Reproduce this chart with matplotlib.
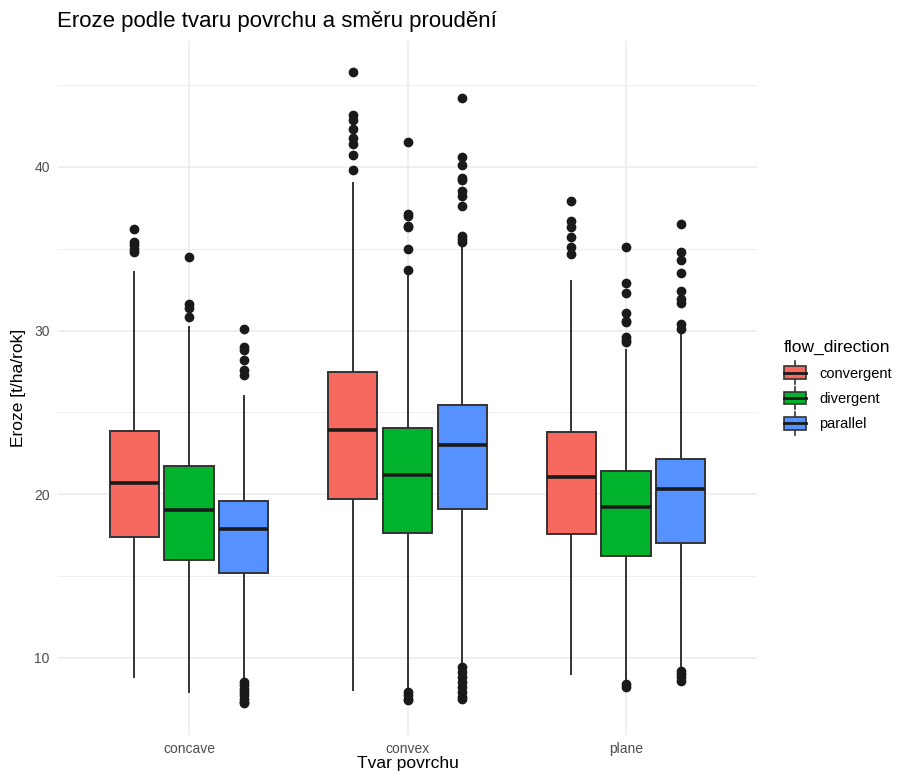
import matplotlib
matplotlib.use('Agg')
import matplotlib.pyplot as plt
from matplotlib.patches import Rectangle
from matplotlib.lines import Line2D
from matplotlib.legend_handler import HandlerBase

plt.rcParams['font.family'] = ['Liberation Sans', 'DejaVu Sans']

# categories and groups
shapes = ['concave', 'convex', 'plane']
directions = ['convergent', 'divergent', 'parallel']
colors = ['#F7695F', '#00B22C', '#5592FF']

# box statistics: (whislo, q1, med, q3, whishi)
# order: concave, convex, plane
convergent_stats = [(8.8, 17.35, 20.67, 23.88, 33.6),
                    (8.05, 19.69, 23.93, 27.49, 39.0),
                    (9.0, 17.56, 21.04, 23.82, 33.03)]
divergent_stats = [(7.9, 15.99, 19.04, 21.69, 30.24),
                   (8.2, 17.62, 21.14, 24.01, 33.5),
                   (8.5, 16.19, 19.22, 21.42, 28.8)]
parallel_stats = [(8.7, 15.15, 17.86, 19.57, 26.02),
                  (9.45, 19.1, 23.03, 25.47, 35.1),
                  (9.4, 16.98, 20.28, 22.16, 29.87)]

# outliers
convergent_out = [[36.2, 35.4, 35.2, 35.0, 34.8],
                  [45.8, 43.2, 42.9, 42.3, 41.8, 41.4, 40.7, 39.8],
                  [37.9, 36.7, 36.3, 35.7, 35.1, 34.7]]
divergent_out = [[34.5, 31.6, 31.4, 30.8],
                 [41.5, 37.1, 37.0, 36.4, 36.3, 35.0, 33.7, 7.9, 7.7, 7.5, 7.4],
                 [35.1, 32.9, 32.3, 31.1, 30.6, 30.5, 29.6, 29.4, 29.3, 8.4, 8.2]]
parallel_out = [[30.1, 29.0, 28.8, 28.2, 27.6, 27.3,
                 8.5, 8.3, 8.1, 7.9, 7.7, 7.5, 7.3, 7.2],
                [44.2, 40.6, 40.1, 39.3, 39.2, 38.5, 38.2, 37.6, 35.8, 35.6, 35.4,
                 9.4, 9.1, 8.8, 8.5, 8.2, 7.9, 7.6, 7.5],
                [36.5, 34.8, 34.3, 33.5, 32.4, 31.9, 31.7, 30.4, 30.1,
                 9.2, 9.0, 8.8, 8.6]]

all_stats = [convergent_stats, divergent_stats, parallel_stats]
all_out = [convergent_out, divergent_out, parallel_out]

EDGE = '#333333'


class BoxHandler(HandlerBase):
    def create_artists(self, legend, orig_handle, xdescent, ydescent,
                       width, height, fontsize, trans):
        x0, y0 = -xdescent, -ydescent
        h = height
        yb = y0
        rect = Rectangle((x0, yb), width, h, facecolor=orig_handle.get_facecolor(),
                         edgecolor=EDGE, linewidth=1.2, transform=trans)
        med = Line2D([x0, x0 + width], [yb + h / 2] * 2, color='#1a1a1a',
                     linewidth=2.0, transform=trans)
        w1 = Line2D([x0 + width / 2] * 2, [yb + h, yb + h + 3.5], color=EDGE,
                    linewidth=1.2, transform=trans)
        w2 = Line2D([x0 + width / 2] * 2, [yb - 3.5, yb], color=EDGE,
                    linewidth=1.2, transform=trans)
        return [w1, w2, rect, med]


fig = plt.figure(figsize=(8.99, 7.75), dpi=100)
ax = fig.add_axes([58 / 899, 1 - 735 / 775, (757 - 58) / 899, (735 - 41) / 775])

offsets = [-0.25, 0.0, 0.25]
handles = []
for g, (stats, outs) in enumerate(zip(all_stats, all_out)):
    bxp_stats = []
    for (lo, q1, med, q3, hi), fl in zip(stats, outs):
        bxp_stats.append(dict(whislo=lo, q1=q1, med=med, q3=q3, whishi=hi, fliers=fl))
    pos = [i + offsets[g] for i in range(len(shapes))]
    ax.bxp(bxp_stats, positions=pos, widths=0.225, patch_artist=True,
           showcaps=False, manage_ticks=False,
           boxprops=dict(facecolor=colors[g], edgecolor=EDGE, linewidth=1.4),
           medianprops=dict(color='#1a1a1a', linewidth=2.6),
           whiskerprops=dict(color=EDGE, linewidth=1.4),
           flierprops=dict(marker='o', markerfacecolor='#1a1a1a',
                           markeredgecolor='#1a1a1a', markersize=6),
           zorder=3)
    handles.append(Rectangle((0, 0), 1, 1, facecolor=colors[g], edgecolor=EDGE))

ax.set_xlim(-0.6, 2.6)
ax.set_ylim(5.27, 47.7)
ax.set_xticks(range(len(shapes)))
ax.set_xticklabels(shapes)
ax.set_yticks([10, 20, 30, 40])
ax.set_yticks([15, 25, 35, 45], minor=True)
ax.grid(True, which='major', color='#EBEBEB', linewidth=1.1)
ax.grid(True, which='minor', axis='y', color='#EBEBEB', linewidth=0.6)
ax.set_axisbelow(True)
for s in ax.spines.values():
    s.set_visible(False)
ax.tick_params(which='both', length=0, labelsize=10, labelcolor='#4D4D4D')
ax.tick_params(axis='x', pad=5)
ax.tick_params(axis='y', pad=6)

ax.set_xlabel('Tvar povrchu', fontsize=12.5, labelpad=0)
ax.set_ylabel('Eroze [t/ha/rok]', fontsize=12.5, labelpad=6)
fig.text(57 / 899, 1 - 21 / 775, 'Eroze podle tvaru povrchu a směru proudění',
         fontsize=16, va='center', ha='left')

leg = fig.legend(handles, directions, handler_map={Rectangle: BoxHandler()},
                 title='flow_direction', loc='upper left',
                 bbox_to_anchor=(771 / 899, 1 - 327 / 775), frameon=False,
                 fontsize=10.5, title_fontsize=12.5, handlelength=1.5,
                 handleheight=0.95, labelspacing=0.76, handletextpad=0.9,
                 alignment='left')

fig.savefig('out.png', dpi=100)
